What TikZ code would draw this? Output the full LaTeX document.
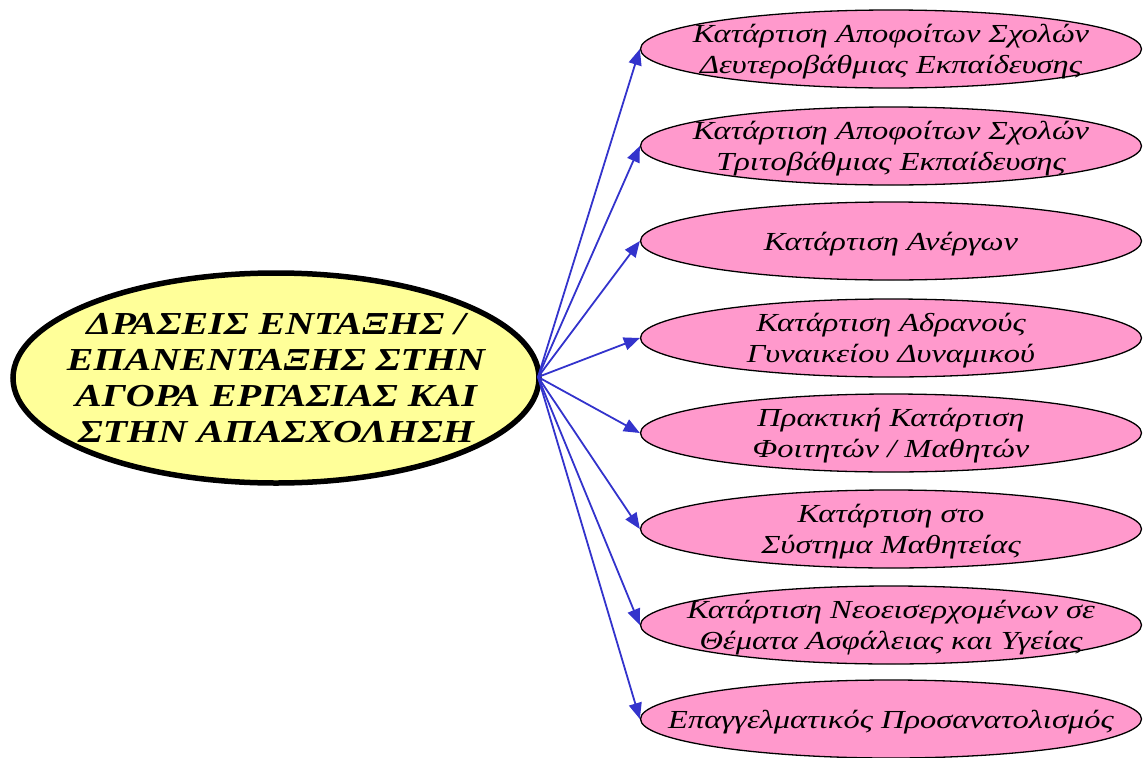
\documentclass[tikz,border=0pt]{standalone}
\usepackage{fontspec}
\setmainfont{Liberation Serif}
\newfontfamily\wideserif[FakeStretch=1.25]{Liberation Serif}
\usetikzlibrary{arrows.meta,shapes.geometric}
\definecolor{bigfill}{HTML}{FFFF99}
\definecolor{pinkfill}{HTML}{FF99CC}
\definecolor{arrowblue}{HTML}{3333CC}
\begin{document}
\begin{tikzpicture}[x=1pt,y=-1pt,
  big/.style={ellipse,draw=black,line width=5.5pt,fill=bigfill,minimum width=526pt,minimum height=210pt,inner sep=0pt},
  bigtext/.style={font=\wideserif\fontsize{32}{36}\selectfont\bfseries\itshape,align=center,inner sep=0pt},
  leaf/.style={ellipse,draw=black,line width=1.3pt,fill=pinkfill,minimum width=501pt,minimum height=78pt,inner sep=0pt},
  leaftext/.style={font=\wideserif\fontsize{26}{31}\selectfont\itshape,align=center,inner sep=0pt},
  conn/.style={draw=arrowblue,line width=1.8pt,-{Triangle[length=16pt,width=13pt]}}]
\useasboundingbox (0,0) rectangle (1144,758);
\node[big] (root) at (276,378) {};
\node[bigtext] (roottext) at (root.center) {ΔΡΑΣΕΙΣ ΕΝΤΑΞΗΣ /\\ ΕΠΑΝΕΝΤΑΞΗΣ ΣΤΗΝ\\ ΑΓΟΡΑ ΕΡΓΑΣΙΑΣ ΚΑΙ\\ ΣΤΗΝ ΑΠΑΣΧΟΛΗΣΗ};
\coordinate (src) at (538,377);
\foreach \n/\y/\t in {
  n1/49/{Κατάρτιση Αποφοίτων Σχολών\\Δευτεροβάθμιας Εκπαίδευσης},
  n2/146/{Κατάρτιση Αποφοίτων Σχολών\\Τριτοβάθμιας Εκπαίδευσης},
  n3/241/{Κατάρτιση Ανέργων},
  n4/338/{Κατάρτιση Αδρανούς\\Γυναικείου Δυναμικού},
  n5/433/{Πρακτική Κατάρτιση\\Φοιτητών / Μαθητών},
  n6/529/{Κατάρτιση στο\\Σύστημα Μαθητείας},
  n7/625/{Κατάρτιση Νεοεισερχομένων σε\\Θέματα Ασφάλειας και Υγείας},
  n8/719/{Επαγγελματικός Προσανατολισμός}}{
  \node[leaf] (\n) at (891,\y) {};
  \node[leaftext] (\n text) at ([yshift=-3pt]\n.center) {\t};
  \draw[conn] (src) -- (\n.west);
}
\end{tikzpicture}
\end{document}
